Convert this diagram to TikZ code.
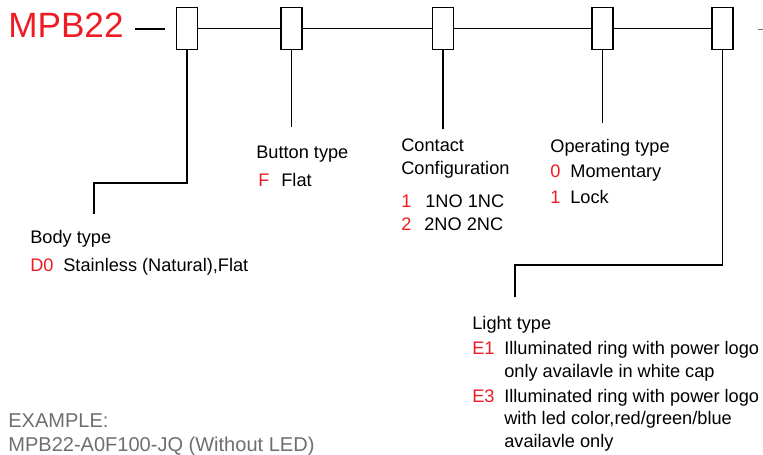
\documentclass[tikz,border=0pt]{standalone}
\usepackage{fontspec}
\setmainfont{Liberation Sans}
\definecolor{codered}{HTML}{ED1C24}
\definecolor{examplegray}{HTML}{6E6E6E}
\begin{document}
\begin{tikzpicture}[
  x=0.02cm, y=-0.02cm,
  box/.style={draw, line width=1.1pt, minimum width=0.42cm, minimum height=0.84cm, inner sep=0pt},
  lead/.style={line width=0.85pt},
  txt/.style={anchor=base west, inner sep=0pt, font=\fontsize{10.35}{12.8}\selectfont, align=left},
  code/.style={txt, text=codered},
  ex/.style={txt, text=examplegray, font=\fontsize{11.4}{13}\selectfont}
]
\useasboundingbox (0,0) rectangle (763,454);

% part number boxes
\node[txt, text=codered, font=\fontsize{20}{22}\selectfont] (pn) at (8,37) {MPB22};
\node[box] (b1) at (187,28.5) {};
\node[box] (b2) at (291.5,28.5) {};
\node[box] (b3) at (443,28.5) {};
\node[box] (b4) at (602.5,28.5) {};
\node[box] (b5) at (722.5,28.5) {};

\draw[line width=1.7pt] (135,29) -- (165,29);
\draw[lead] (b1) -- (b2);
\draw[lead] (b2) -- (b3);
\draw[lead] (b3) -- (b4);
\draw[lead] (b4) -- (b5);
\draw[examplegray, line width=0.5pt] (758,29.5) -- (763,29.5);

% leader lines
\coordinate (bodyend) at (94,214);
\coordinate (buttonend) at (291.5,127);
\coordinate (contactend) at (443,129);
\coordinate (operend) at (602.5,123);
\coordinate (lightend) at (515,297);
\draw[lead] (b1.south) |- (94,183) -- (bodyend);
\draw[lead] (b2.south) -- (buttonend);
\draw[lead] (b3.south) -- (contactend);
\draw[lead] (b4.south) -- (operend);
\draw[lead] (b5.south) |- (515,265) -- (lightend);

% body type
\node[txt] (body) at (30,243) {Body type};
\node[code] (d0) at (30,271) {D0};
\node[txt] (d0t) at (63,271) {Stainless (Natural),Flat};

% button type
\node[txt] (button) at (256,158) {Button type};
\node[code] (f) at (258,186) {F};
\node[txt] (ft) at (281,186) {Flat};

% contact configuration (base = last line)
\node[txt] (contact) at (401,174) {Contact\\Configuration};
\node[code] (c1) at (401,207) {1};
\node[txt] (c1t) at (425,207) {1NO 1NC};
\node[code] (c2) at (401,230) {2};
\node[txt] (c2t) at (424,230) {2NO 2NC};

% operating type
\node[txt] (oper) at (550,152) {Operating type};
\node[code] (o0) at (550,177) {0};
\node[txt] (o0t) at (570,177) {Momentary};
\node[code] (o1) at (550,203) {1};
\node[txt] (o1t) at (570,203) {Lock};

% light type
\node[txt] (light) at (472,329) {Light type};
\node[code] (e1) at (472,354) {E1};
\node[txt] (e1t) at (504,377) {Illuminated ring with power logo\\only availavle in white cap};
\node[code] (e3) at (472,402) {E3};
\node[txt] (e3t) at (504,447) {Illuminated ring with power logo\\with led color,red/green/blue\\availavle only};

% example
\node[ex] (example) at (8,427) {EXAMPLE:};
\node[ex] (exampleno) at (8,451) {MPB22-A0F100-JQ (Without LED)};
\end{tikzpicture}
\end{document}
